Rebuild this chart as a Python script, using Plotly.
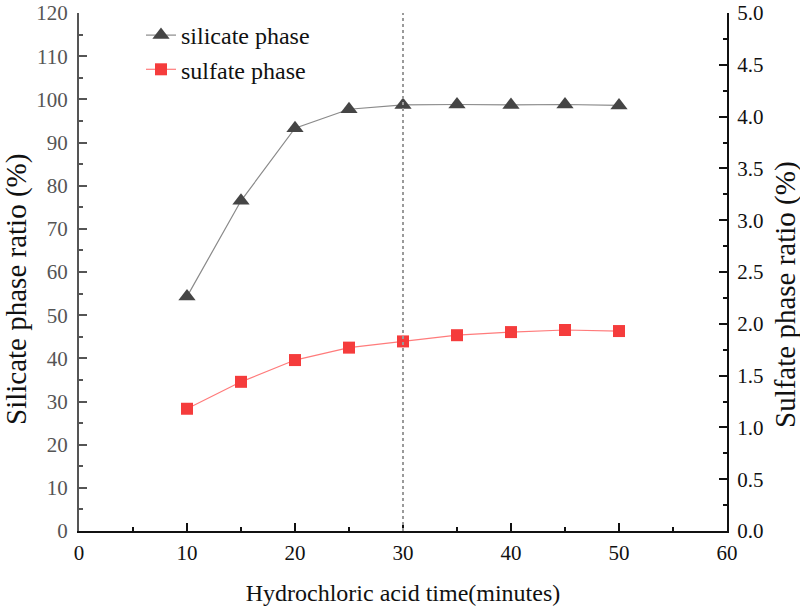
import plotly.graph_objects as go

time_min = [10, 15, 20, 25, 30, 35, 40, 45, 50]
silicate = [54.3, 76.5, 93.3, 97.7, 98.7, 98.8, 98.7, 98.8, 98.6]
sulfate = [1.18, 1.44, 1.65, 1.77, 1.83, 1.89, 1.92, 1.94, 1.93]
marker_time = 30

FONT = "Liberation Serif"
T, B, L, R = 13, 77, 79, 73
PH = 608 - T - B
PW = 800 - L - R

fig = go.Figure()
fig.add_trace(go.Scatter(
    x=time_min, y=silicate, name="silicate phase", mode="lines+markers",
    line=dict(color="#8a8a8a", width=1.2),
    marker=dict(symbol="triangle-up", size=15, color="#454545"),
))
fig.add_trace(go.Scatter(
    x=time_min, y=sulfate, name="sulfate phase", mode="lines+markers", yaxis="y2",
    line=dict(color="#ff7b7b", width=1.2),
    marker=dict(symbol="square", size=12, color="#f53c3c"),
))

fig.add_shape(type="line", x0=marker_time, x1=marker_time, y0=0, y1=1, yref="paper",
              line=dict(color="#9a9a9a", width=2, dash="dot"))

fig.add_annotation(text="Silicate phase ratio (%)", xref="paper", yref="paper",
                   x=(16 - L) / PW, y=1 - (290 - T) / PH, textangle=-90,
                   showarrow=False, font=dict(size=29, color="#111"),
                   xanchor="center", yanchor="middle")
fig.add_annotation(text="Sulfate phase ratio (%)", xref="paper", yref="paper",
                   x=(785 - L) / PW, y=1 - (295 - T) / PH, textangle=-90,
                   showarrow=False, font=dict(size=29, color="#111"),
                   xanchor="center", yanchor="middle")

fig.update_layout(
    width=800, height=608,
    margin=dict(l=L, r=R, t=T, b=B, autoexpand=False),
    paper_bgcolor="white", plot_bgcolor="white",
    font=dict(family=FONT, size=21, color="#222"),
    showlegend=True,
    legend=dict(x=(141 - L) / PW, y=1 - (13 - T) / PH, xanchor="left", yanchor="top",
                font=dict(size=24, color="#111"), bgcolor="rgba(0,0,0,0)",
                tracegroupgap=0),
    xaxis=dict(range=[0, 60], dtick=10, tick0=0, showgrid=False, zeroline=False,
               automargin=False,
               showline=True, linecolor="#111", linewidth=2,
               ticks="inside", ticklen=8, tickwidth=2, tickcolor="#111",
               minor=dict(ticks="inside", ticklen=4, tickwidth=2, dtick=5, tickcolor="#111"),
               tickfont=dict(size=21, color="#111"), ticklabeloverflow="allow",
               ticklabelstandoff=2,
               title=dict(text="Hydrochloric acid time(minutes)", font=dict(size=24, color="#111"), standoff=20)),
    yaxis=dict(range=[0, 120], dtick=10, showgrid=False, zeroline=False,
               automargin=False,
               showline=True, linecolor="#555", linewidth=2,
               ticks="inside", ticklen=8, tickwidth=2, tickcolor="#555",
               minor=dict(ticks="inside", ticklen=4, tickwidth=2, dtick=5, tickcolor="#555"),
               tickfont=dict(size=21, color="#555"), ticklabeloverflow="allow",
               ticklabelstandoff=5),
    yaxis2=dict(range=[0, 5], dtick=0.5, tickformat=".1f", overlaying="y", side="right",
                showgrid=False, zeroline=False, automargin=False,
                showline=True, linecolor="#111", linewidth=2,
                ticks="inside", ticklen=8, tickwidth=2, tickcolor="#111",
                minor=dict(ticks="inside", ticklen=4, tickwidth=2, dtick=0.25, tickcolor="#111"),
                tickfont=dict(size=21, color="#111"), ticklabeloverflow="allow",
                ticklabelstandoff=4),
)

fig.write_html("out.html")
